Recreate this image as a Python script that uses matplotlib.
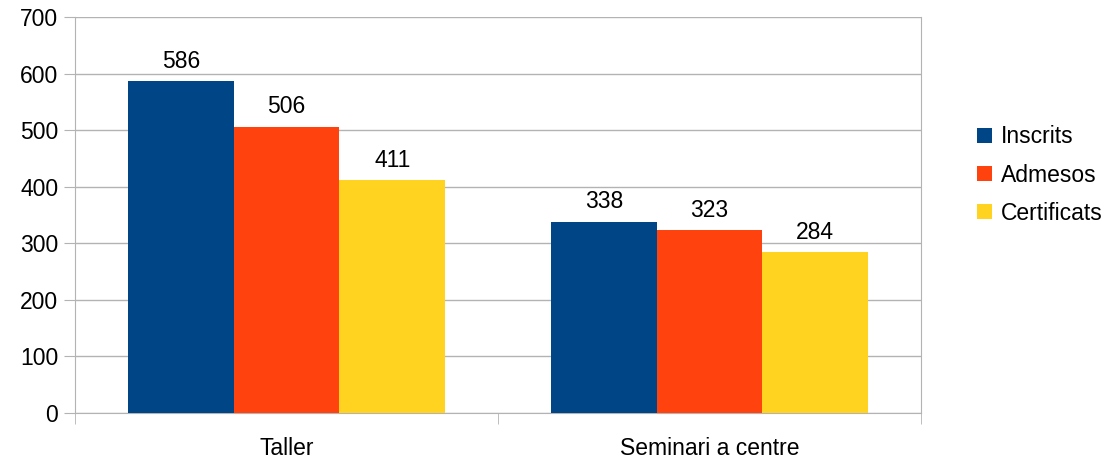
import matplotlib
matplotlib.use("Agg")
import matplotlib.pyplot as plt
import numpy as np
from matplotlib.patches import Patch

categories = ["Taller", "Seminari a centre"]
series_names = ["Inscrits", "Admesos", "Certificats"]
inscrits = [586, 338]
admesos = [506, 323]
certificats = [411, 284]
colors = ["#004586", "#ff420e", "#ffd320"]
yticks = [0, 100, 200, 300, 400, 500, 600, 700]

FS = 16.5
plt.rcParams['font.family'] = ['Liberation Sans', 'DejaVu Sans']
fig = plt.figure(figsize=(11.17, 4.62), dpi=100)
ax = fig.add_axes([75/1117, 1-413/462, (921-75)/1117, (413-17)/462])

x = np.arange(len(categories))
w = 0.25
series = [inscrits, admesos, certificats]
for i, (vals, name, c) in enumerate(zip(series, series_names, colors)):
    pos = x + (i - 1) * w
    bars = ax.bar(pos, vals, width=w, color=c, label=name, zorder=3)
    for b, v in zip(bars, vals):
        ax.annotate(str(v), (b.get_x() + b.get_width()/2, v), xytext=(0, 6),
                    textcoords='offset points', ha='center', va='bottom', fontsize=FS)

ax.set_xlim(-0.5, 1.5)
ax.set_ylim(0, 700)
ax.set_yticks(yticks)
ax.set_yticklabels([str(t) for t in yticks], fontsize=FS)
ax.yaxis.grid(True, color="#b3b3b3", linewidth=1, zorder=0)
ax.tick_params(axis='y', length=8, color="#b3b3b3", pad=4)
ax.set_xticks(x)
ax.set_xticklabels(categories, fontsize=FS)
ax.tick_params(axis='x', which='major', length=0, pad=17)
ax.set_xticks([-0.5, 0.5, 1.5], minor=True)
ax.tick_params(axis='x', which='minor', length=8, color="#b3b3b3")
for s in ['top']:
    ax.spines[s].set_visible(False)
for s in ['left', 'right', 'bottom']:
    ax.spines[s].set_color("#b3b3b3")

handles = [Patch(facecolor=c, edgecolor='none') for c in colors]
fig.legend(handles, series_names, loc='center left', bbox_to_anchor=(977/1117, 1-175/462),
           frameon=False, fontsize=FS, handlelength=0.66, handleheight=0.66,
           handletextpad=0.4, labelspacing=0.66, borderpad=0, borderaxespad=0)

fig.savefig("out.png", dpi=100)
